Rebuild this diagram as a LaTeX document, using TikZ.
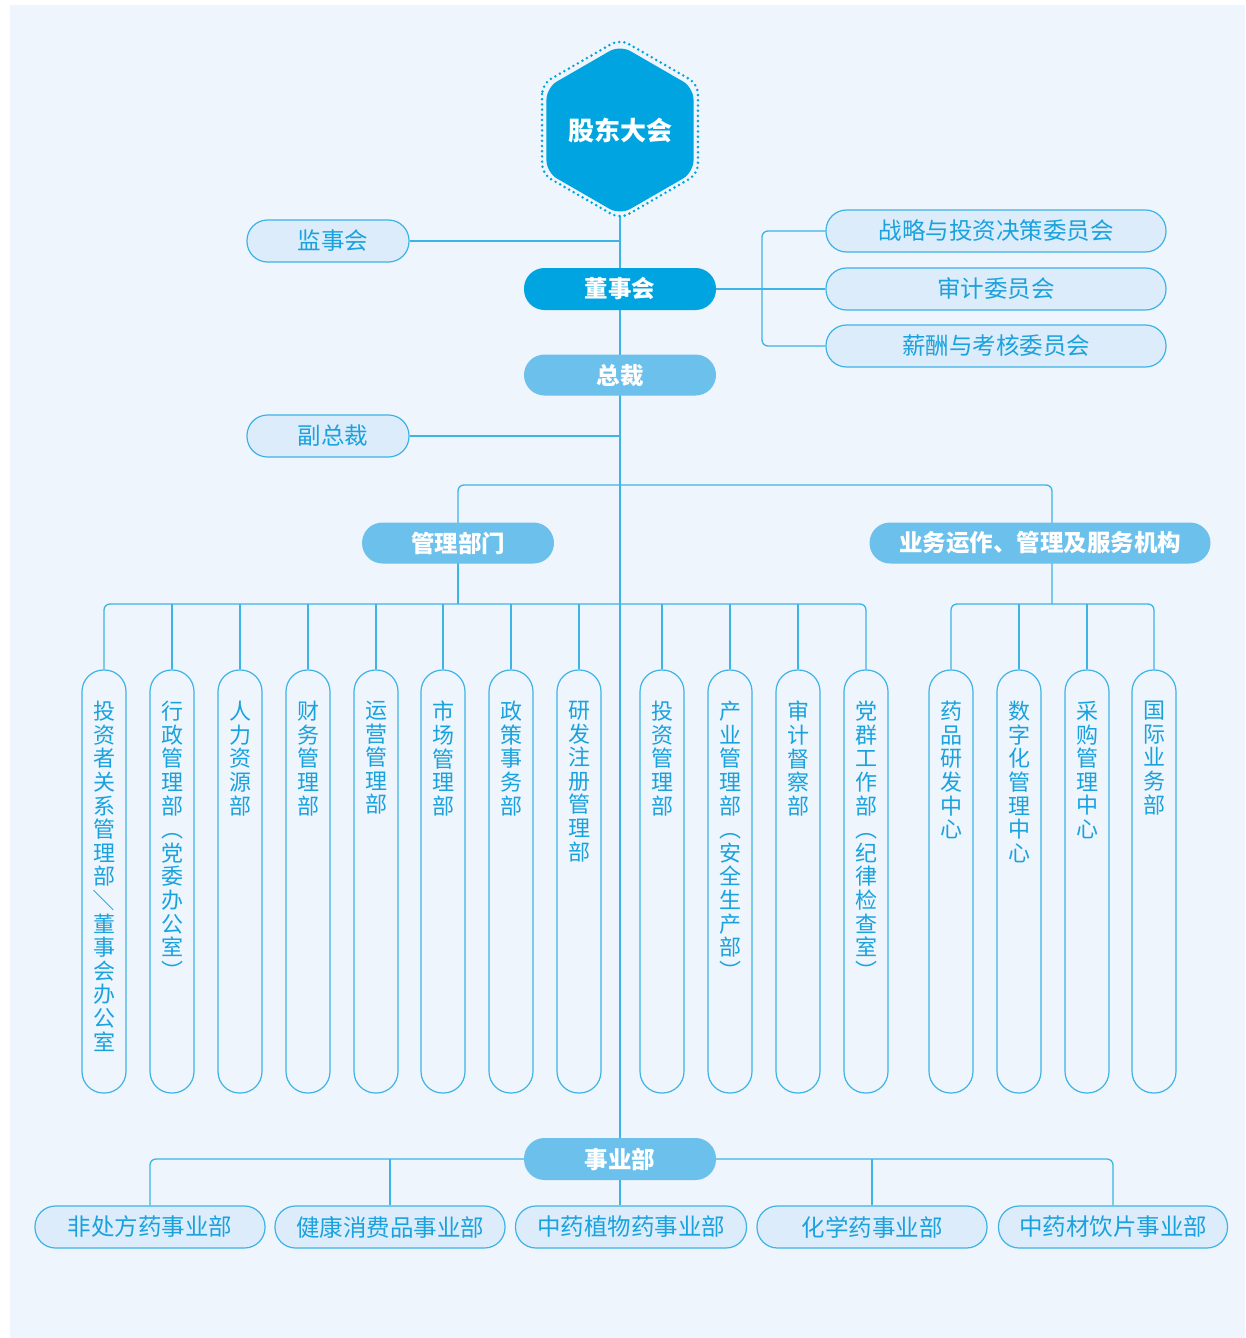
\documentclass[tikz,border=0pt]{standalone}
\usepackage{fontspec}
\setmainfont{Noto Sans CJK SC}
\usetikzlibrary{shapes.geometric}
\definecolor{bgc}{HTML}{EEF5FC}
\definecolor{linec}{HTML}{3DB3E6}
\definecolor{darkc}{HTML}{00A4E0}
\definecolor{midc}{HTML}{6CC0EC}
\definecolor{palec}{HTML}{DCECFA}
\definecolor{txtc}{HTML}{1AA2DE}
\pgfdeclarelayer{back}
\pgfdeclarelayer{bg}
\pgfsetlayers{back,bg,main}
\newcommand{\vslash}{\rotatebox[origin=c]{-90}{／}}
\begin{document}
\begin{tikzpicture}[x=1pt,y=-1pt,
  conn/.style={draw=linec, line width=1.3pt},
  rconn/.style={conn, rounded corners=6pt},
  pill/.style={rectangle, rounded corners=20.5pt, minimum height=42pt, draw=linec, line width=1.2pt, fill=palec, text=txtc, font=\fontsize{23.5}{25}\selectfont, inner sep=0pt},
  darkpill/.style={pill, fill=darkc, draw=none, text=white, font=\bfseries\fontsize{23.5}{25}\selectfont},
  midpill/.style={darkpill, fill=midc},
  pillar/.style={rectangle, draw=linec, line width=1.2pt, fill=bgc, rounded corners=21.5pt, minimum width=44pt, minimum height=423pt, inner sep=0pt},
  vtext/.style={text=txtc, font=\fontsize{22}{23.6}\selectfont, align=center, anchor=north, inner sep=0pt}]
\useasboundingbox (0,0) rectangle (1245,1338);
\begin{pgfonlayer}{back}
\fill[white] (0,0) rectangle (1245,1338);
\fill[bgc] (10,5) rectangle (1245,1338);
\end{pgfonlayer}

% top hexagon
\node[regular polygon, regular polygon sides=6, shape border rotate=90, minimum size=180pt, inner sep=0pt,
  draw=darkc, fill=bgc, line width=2.8pt, line cap=round, rounded corners=10pt, dash pattern=on 0pt off 5.2pt] (hexo) at (620,129) {};
\node[regular polygon, regular polygon sides=6, shape border rotate=90, minimum size=154pt, inner sep=0pt,
  fill=darkc, rounded corners=12pt, text=white, font=\bfseries\fontsize{26}{28}\selectfont] (hex) at (620,130) {股东大会};

% governance
\node[pill, minimum width=162pt] (jianshi) at (328,241) {\hspace*{10pt}监事会};
\node[darkpill, minimum width=192pt] (dongshi) at (620,289) {董事会};
\node[pill, minimum width=340pt] (zhanlue) at (996,231) {战略与投资决策委员会};
\node[pill, minimum width=340pt] (shenji) at (996,289) {审计委员会};
\node[pill, minimum width=340pt] (xinchou) at (996,346) {薪酬与考核委员会};
\node[midpill, minimum width=192pt, minimum height=41pt] (zongcai) at (620,375) {总裁};
\node[pill, minimum width=162pt] (fuzong) at (328,436) {\hspace*{10pt}副总裁};
\node[midpill, minimum width=192pt, minimum height=41pt] (guanli) at (458,543) {管理部门};
\node[midpill, minimum width=341pt, minimum height=41pt] (yewu) at (1040,543) {业务运作、管理及服务机构};
\node[midpill, minimum width=192pt] (shiye) at (620,1159) {事业部};

% pillars
\node[pillar] (p1) at (104,881.5) {};
\node[pillar] (p2) at (172,881.5) {};
\node[pillar] (p3) at (240,881.5) {};
\node[pillar] (p4) at (308,881.5) {};
\node[pillar] (p5) at (376,881.5) {};
\node[pillar] (p6) at (443,881.5) {};
\node[pillar] (p7) at (511,881.5) {};
\node[pillar] (p8) at (579,881.5) {};
\node[pillar] (p9) at (662,881.5) {};
\node[pillar] (p10) at (730,881.5) {};
\node[pillar] (p11) at (798,881.5) {};
\node[pillar] (p12) at (866,881.5) {};
\node[pillar] (p13) at (951,881.5) {};
\node[pillar] (p14) at (1019,881.5) {};
\node[pillar] (p15) at (1087,881.5) {};
\node[pillar] (p16) at (1154,881.5) {};

\node[vtext] (t1) at (104,701) {投\\资\\者\\关\\系\\管\\理\\部\\\vslash\\董\\事\\会\\办\\公\\室};
\node[vtext] (t2) at (172,701) {行\\政\\管\\理\\部\\︵\\党\\委\\办\\公\\室\\︶};
\node[vtext] (t3) at (240,701) {人\\力\\资\\源\\部};
\node[vtext] (t4) at (308,701) {财\\务\\管\\理\\部};
\node[vtext] (t5) at (376,701) {运\\营\\管\\理\\部};
\node[vtext] (t6) at (443,701) {市\\场\\管\\理\\部};
\node[vtext] (t7) at (511,701) {政\\策\\事\\务\\部};
\node[vtext] (t8) at (579,701) {研\\发\\注\\册\\管\\理\\部};
\node[vtext] (t9) at (662,701) {投\\资\\管\\理\\部};
\node[vtext] (t10) at (730,701) {产\\业\\管\\理\\部\\︵\\安\\全\\生\\产\\部\\︶};
\node[vtext] (t11) at (798,701) {审\\计\\督\\察\\部};
\node[vtext] (t12) at (866,701) {党\\群\\工\\作\\部\\︵\\纪\\律\\检\\查\\室\\︶};
\node[vtext] (t13) at (951,701) {药\\品\\研\\发\\中\\心};
\node[vtext] (t14) at (1019,701) {数\\字\\化\\管\\理\\中\\心};
\node[vtext] (t15) at (1087,701) {采\\购\\管\\理\\中\\心};
\node[vtext] (t16) at (1154,701) {国\\际\\业\\务\\部};

% business units
\node[pill, minimum width=230pt] (b1) at (150,1227) {非处方药事业部};
\node[pill, minimum width=230pt] (b2) at (390,1227) {健康消费品事业部};
\node[pill, minimum width=231pt] (b3) at (631,1227) {中药植物药事业部};
\node[pill, minimum width=230pt] (b4) at (872,1227) {化学药事业部};
\node[pill, minimum width=229pt] (b5) at (1113,1227) {中药材饮片事业部};

\coordinate (brk) at (762,289);
\coordinate (split) at (1052,485);
\coordinate (lbus) at (458,604);

\begin{pgfonlayer}{bg}
\draw[conn] (hexo.center) -- (hexo.center |- b3.north);
\draw[conn] (jianshi.east) -- (jianshi.east -| hexo.center);
\draw[conn] (fuzong.east) -- (fuzong.east -| hexo.center);
\draw[conn] (dongshi.center) -- (shenji.west);
\draw[rconn] (zhanlue.west) -| (brk) |- (xinchou.west);
\draw[rconn] (guanli.center) |- (split) -- (split |- lbus);
\draw[conn] (guanli.center) -- (lbus);
\draw[rconn] (p1.north) |- (p12.north |- lbus) -- (p12.north);
\foreach \k in {2,...,11} { \draw[conn] (p\k.north) -- (p\k.north |- lbus); }
\draw[rconn] (p13.north) |- (p16.north |- lbus) -- (p16.north);
\foreach \k in {14,15} { \draw[conn] (p\k.north) -- (p\k.north |- lbus); }
\draw[rconn] (b1.north) |- (b5.north |- shiye.center) -- (b5.north);
\draw[conn] (b2.north) -- (b2.north |- shiye.center);
\draw[conn] (b4.north) -- (b4.north |- shiye.center);
\end{pgfonlayer}
\end{tikzpicture}
\end{document}
